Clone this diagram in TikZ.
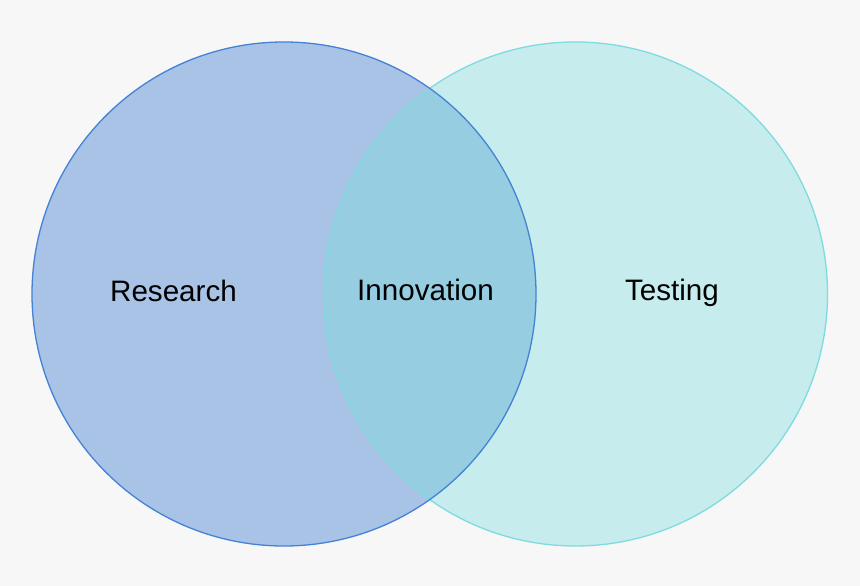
\documentclass[tikz,border=0pt]{standalone}
\usepackage{fontspec}
\setmainfont{Liberation Sans}
\usepackage{tikz}
\usepackage{xcolor}
\definecolor{bgcol}{HTML}{F7F7F7}
\definecolor{researchfill}{HTML}{A8C3E5}
\definecolor{researchline}{HTML}{4482D6}
\definecolor{testingfill}{HTML}{C7ECEE}
\definecolor{testingline}{HTML}{7EDBDF}
\definecolor{overlapfill}{HTML}{97CDE1}

\begin{document}
\begin{tikzpicture}[x=1pt,y=1pt,every node/.style={font=\fontsize{29.6}{34}\selectfont}]
\fill[bgcol] (0,0) rectangle (860,586);
\useasboundingbox (0,0) rectangle (860,586);
\fill[researchfill] (284,292) circle (252);
\fill[testingfill] (575.5,292) circle (252);
\begin{scope}
\clip (284,292) circle (252);
\fill[overlapfill] (575.5,292) circle (252);
\end{scope}
\draw[testingline,line width=1.3pt] (575.5,292) circle (252);
\draw[researchline,line width=1.3pt] (284,292) circle (252);
\node[anchor=base] (research) at (173.5,284) {Research};
\node[anchor=base] (innovation) at (425.5,285) {Innovation};
\node[anchor=base] (testing) at (672,285) {Testing};
\end{tikzpicture}
\end{document}
